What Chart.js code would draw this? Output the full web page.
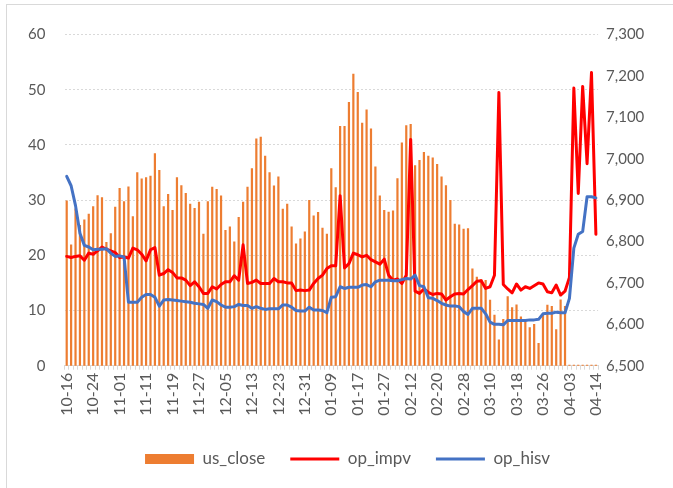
<!DOCTYPE html>
<html>
<head>
<meta charset="utf-8">
<script src="https://cdn.jsdelivr.net/npm/chart.js@4/dist/chart.umd.min.js"></script>
<style>
  html, body { margin: 0; padding: 0; background: #ffffff; }
  #wrap { width: 673px; height: 488px; position: relative; }
</style>
</head>
<body>
<div id="wrap"><canvas id="chart" width="673" height="488"></canvas></div>
<script>
// Trading days (MM-DD)
const dates = [
  "10-16","10-17","10-18","10-21","10-22","10-23","10-24","10-25","10-28","10-29","10-30","10-31",
  "11-01","11-04","11-05","11-06","11-07","11-08","11-11","11-12","11-13","11-14","11-15","11-18","11-19","11-20","11-21","11-22","11-25","11-26","11-27","11-28","11-29",
  "12-02","12-03","12-04","12-05","12-06","12-09","12-10","12-11","12-12","12-13","12-16","12-17","12-18","12-19","12-20","12-23","12-24","12-25","12-26","12-27","12-30","12-31",
  "01-02","01-03","01-06","01-07","01-08","01-09","01-10","01-13","01-14","01-15","01-16","01-17","01-20","01-21","01-22","01-23","01-24","01-27",
  "02-05","02-06","02-07","02-10","02-11","02-12","02-13","02-14","02-17","02-18","02-19","02-20","02-21","02-24","02-25","02-26","02-27","02-28",
  "03-03","03-04","03-05","03-06","03-07","03-10","03-11","03-12","03-13","03-14","03-17","03-18","03-19","03-20","03-21","03-24","03-25","03-26","03-27","03-28","03-31",
  "04-01","04-02","04-03","04-07","04-08","04-09","04-10","04-11","04-14"
];

// Underlying close (right axis)
const usClose = [
  6899, 6793, 6880, 6840, 6853, 6867, 6885, 6912, 6907, 6799,
  6820, 6884, 6929, 6897, 6933, 6861, 6967, 6952, 6955, 6959,
  7013, 6973, 6885, 6915, 6876, 6955, 6936, 6917, 6891, 6881,
  6896, 6819, 6897, 6932, 6927, 6911, 6828, 6836, 6800, 6859,
  6896, 6932, 6977, 7049, 7053, 7007, 6967, 6935, 6957, 6879,
  6891, 6836, 6795, 6807, 6824, 6900, 6863, 6871, 6833, 6819,
  6977, 6931, 7079, 7079, 7137, 7205, 7161, 7087, 7119, 7073,
  6981, 6911, 6876, 6872, 6875, 6953, 7039, 7081, 7084, 6984,
  6997, 7016, 7007, 7003, 6987, 6957, 6936, 6900, 6843, 6841,
  6831, 6832, 6735, 6715, 6709, 6707, 6659, 6623, 6563, 6613,
  6668, 6641, 6648, 6619, 6609, 6593, 6601, 6555, 6623, 6647,
  6644, 6588, 6660, 6644, 6502, 6502, 6502, 6502, 6502, 6502, 6502
];

// Implied volatility (left axis)
const opImpv = [
  19.8, 19.6, 19.8, 19.9, 19.1, 20.4, 20.2, 20.8, 21.5, 21.1,
  20.8, 20.5, 19.6, 19.7, 19.5, 21.3, 21.0, 20.2, 19.0, 21.0,
  21.4, 16.4, 16.7, 17.4, 16.9, 15.9, 15.9, 15.5, 14.5, 15.2,
  14.3, 13.1, 13.1, 14.3, 13.9, 14.7, 15.2, 15.2, 16.3, 15.5,
  21.9, 14.9, 15.1, 15.5, 14.9, 14.9, 14.9, 15.8, 15.2, 15.2,
  15.0, 15.0, 13.6, 13.7, 13.6, 13.7, 14.9, 15.8, 16.4, 17.6,
  18.1, 18.1, 30.8, 17.7, 18.5, 20.4, 20.1, 19.7, 20.0, 19.2,
  18.8, 18.4, 19.3, 16.4, 15.5, 15.7, 14.9, 16.4, 41.0, 13.5,
  13.1, 13.9, 13.3, 12.9, 13.1, 13.0, 11.9, 12.5, 13.0, 13.1,
  13.0, 13.8, 14.5, 15.3, 15.4, 14.0, 14.3, 16.4, 49.5, 14.7,
  13.9, 13.2, 14.8, 13.7, 14.3, 14.0, 14.5, 15.0, 14.8, 13.4,
  13.2, 14.6, 12.8, 13.5, 16.0, 50.3, 31.2, 50.6, 36.6, 53.1, 23.8
];

// Historical volatility (left axis)
const opHisv = [
  34.3, 32.6, 29.0, 24.0, 21.8, 21.5, 21.0, 21.1, 21.1, 21.2,
  20.4, 19.8, 19.9, 19.7, 11.5, 11.5, 11.5, 12.4, 12.9, 12.9,
  12.4, 10.8, 11.9, 12.0, 11.9, 11.8, 11.7, 11.6, 11.5, 11.3,
  11.2, 11.1, 10.4, 11.9, 11.6, 11.0, 10.6, 10.6, 10.7, 11.1,
  10.9, 10.9, 10.4, 10.7, 10.4, 10.2, 10.3, 10.3, 10.3, 11.0,
  11.0, 10.6, 10.0, 9.9, 9.9, 10.6, 10.1, 10.1, 10.0, 9.6,
  12.4, 12.5, 14.3, 14.0, 14.2, 14.2, 14.2, 14.6, 14.7, 14.3,
  15.2, 15.5, 15.5, 15.5, 15.4, 15.4, 15.6, 15.8, 15.7, 16.4,
  14.5, 14.3, 12.3, 12.2, 11.8, 11.3, 11.0, 10.8, 10.8, 10.7,
  9.8, 9.3, 10.4, 10.4, 10.4, 9.4, 7.9, 7.5, 7.5, 7.4,
  8.2, 8.2, 8.2, 8.2, 8.2, 8.3, 8.3, 8.4, 9.4, 9.5,
  9.5, 9.7, 9.6, 9.6, 12.2, 21.3, 23.8, 24.3, 30.6, 30.6, 30.4
];

// Axis ranges
const leftRange = { min: 0, max: 60, step: 10 };
const rightRange = { min: 6500, max: 7300, step: 100 };
const labelEvery = 6;

const textColor = '#595959';
const gridColor = '#d9d9d9';
const fontFamily = 'Lato, "Open Sans", sans-serif';

// White background and light outer frame
const framePlugin = {
  id: 'frame',
  beforeDraw(chart) {
    const c = chart.ctx;
    c.save();
    c.fillStyle = '#ffffff';
    c.fillRect(0, 0, chart.width, chart.height);
    c.strokeStyle = gridColor;
    c.lineWidth = 1;
    c.strokeRect(6.5, 4.5, chart.width + 10, chart.height + 10);
    c.restore();
  }
};

new Chart(document.getElementById('chart'), {
  type: 'bar',
  data: {
    labels: dates,
    datasets: [
      {
        type: 'bar',
        label: 'us_close',
        data: usClose,
        yAxisID: 'yRight',
        backgroundColor: '#ED7D31',
        borderWidth: 0,
        categoryPercentage: 1,
        barPercentage: 0.5,
        pointStyle: 'rect',
        order: 3
      },
      {
        type: 'line',
        label: 'op_impv',
        data: opImpv,
        yAxisID: 'yLeft',
        borderColor: '#FF0000',
        backgroundColor: '#FF0000',
        borderWidth: 3,
        pointRadius: 0,
        pointHoverRadius: 0,
        tension: 0,
        borderJoinStyle: 'round',
        borderCapStyle: 'round',
        pointStyle: 'line',
        order: 2
      },
      {
        type: 'line',
        label: 'op_hisv',
        data: opHisv,
        yAxisID: 'yLeft',
        borderColor: '#4472C4',
        backgroundColor: '#4472C4',
        borderWidth: 3,
        pointRadius: 0,
        pointHoverRadius: 0,
        tension: 0,
        borderJoinStyle: 'round',
        borderCapStyle: 'round',
        pointStyle: 'line',
        order: 1
      }
    ]
  },
  options: {
    responsive: false,
    animation: false,
    devicePixelRatio: 1,
    layout: { padding: { top: 34.5, left: 22, right: 0, bottom: 10.5 } },
    plugins: {
      tooltip: { enabled: false },
      legend: {
        position: 'bottom',
        labels: {
          usePointStyle: true,
          pointStyleWidth: 49,
          boxHeight: 10,
          padding: 25,
          color: textColor,
          font: { family: fontFamily, size: 17 },
          sort: (a, b) => a.datasetIndex - b.datasetIndex
        }
      }
    },
    scales: {
      x: {
        offset: true,
        grid: {
          display: true,
          drawOnChartArea: false,
          drawTicks: true,
          tickLength: 4,
          color: gridColor,
          offset: true
        },
        border: { display: true, color: gridColor, width: 1 },
        ticks: {
          autoSkip: false,
          maxRotation: 90,
          minRotation: 90,
          padding: 3,
          color: textColor,
          font: { family: fontFamily, size: 16 },
          callback: (value, index) => (index % labelEvery === 0 ? dates[index] : '')
        },
        afterFit: (scale) => { scale.height = 59.8; }
      },
      yLeft: {
        position: 'left',
        min: leftRange.min,
        max: leftRange.max,
        grid: { color: gridColor, lineWidth: 1, drawTicks: false },
        border: { display: false, dash: [2, 2] },
        ticks: {
          stepSize: leftRange.step,
          padding: 19,
          color: textColor,
          font: { family: fontFamily, size: 15 }
        },
        afterFit: (scale) => { scale.width = 42.5; }
      },
      yRight: {
        position: 'right',
        min: rightRange.min,
        max: rightRange.max,
        grid: { display: false, drawTicks: false },
        border: { display: false },
        ticks: {
          stepSize: rightRange.step,
          padding: 8,
          color: textColor,
          font: { family: fontFamily, size: 15 },
          callback: (v) => Number(v).toLocaleString('en-US')
        },
        afterFit: (scale) => { scale.width = 74.9; }
      }
    }
  },
  plugins: [framePlugin]
});
</script>
</body>
</html>
